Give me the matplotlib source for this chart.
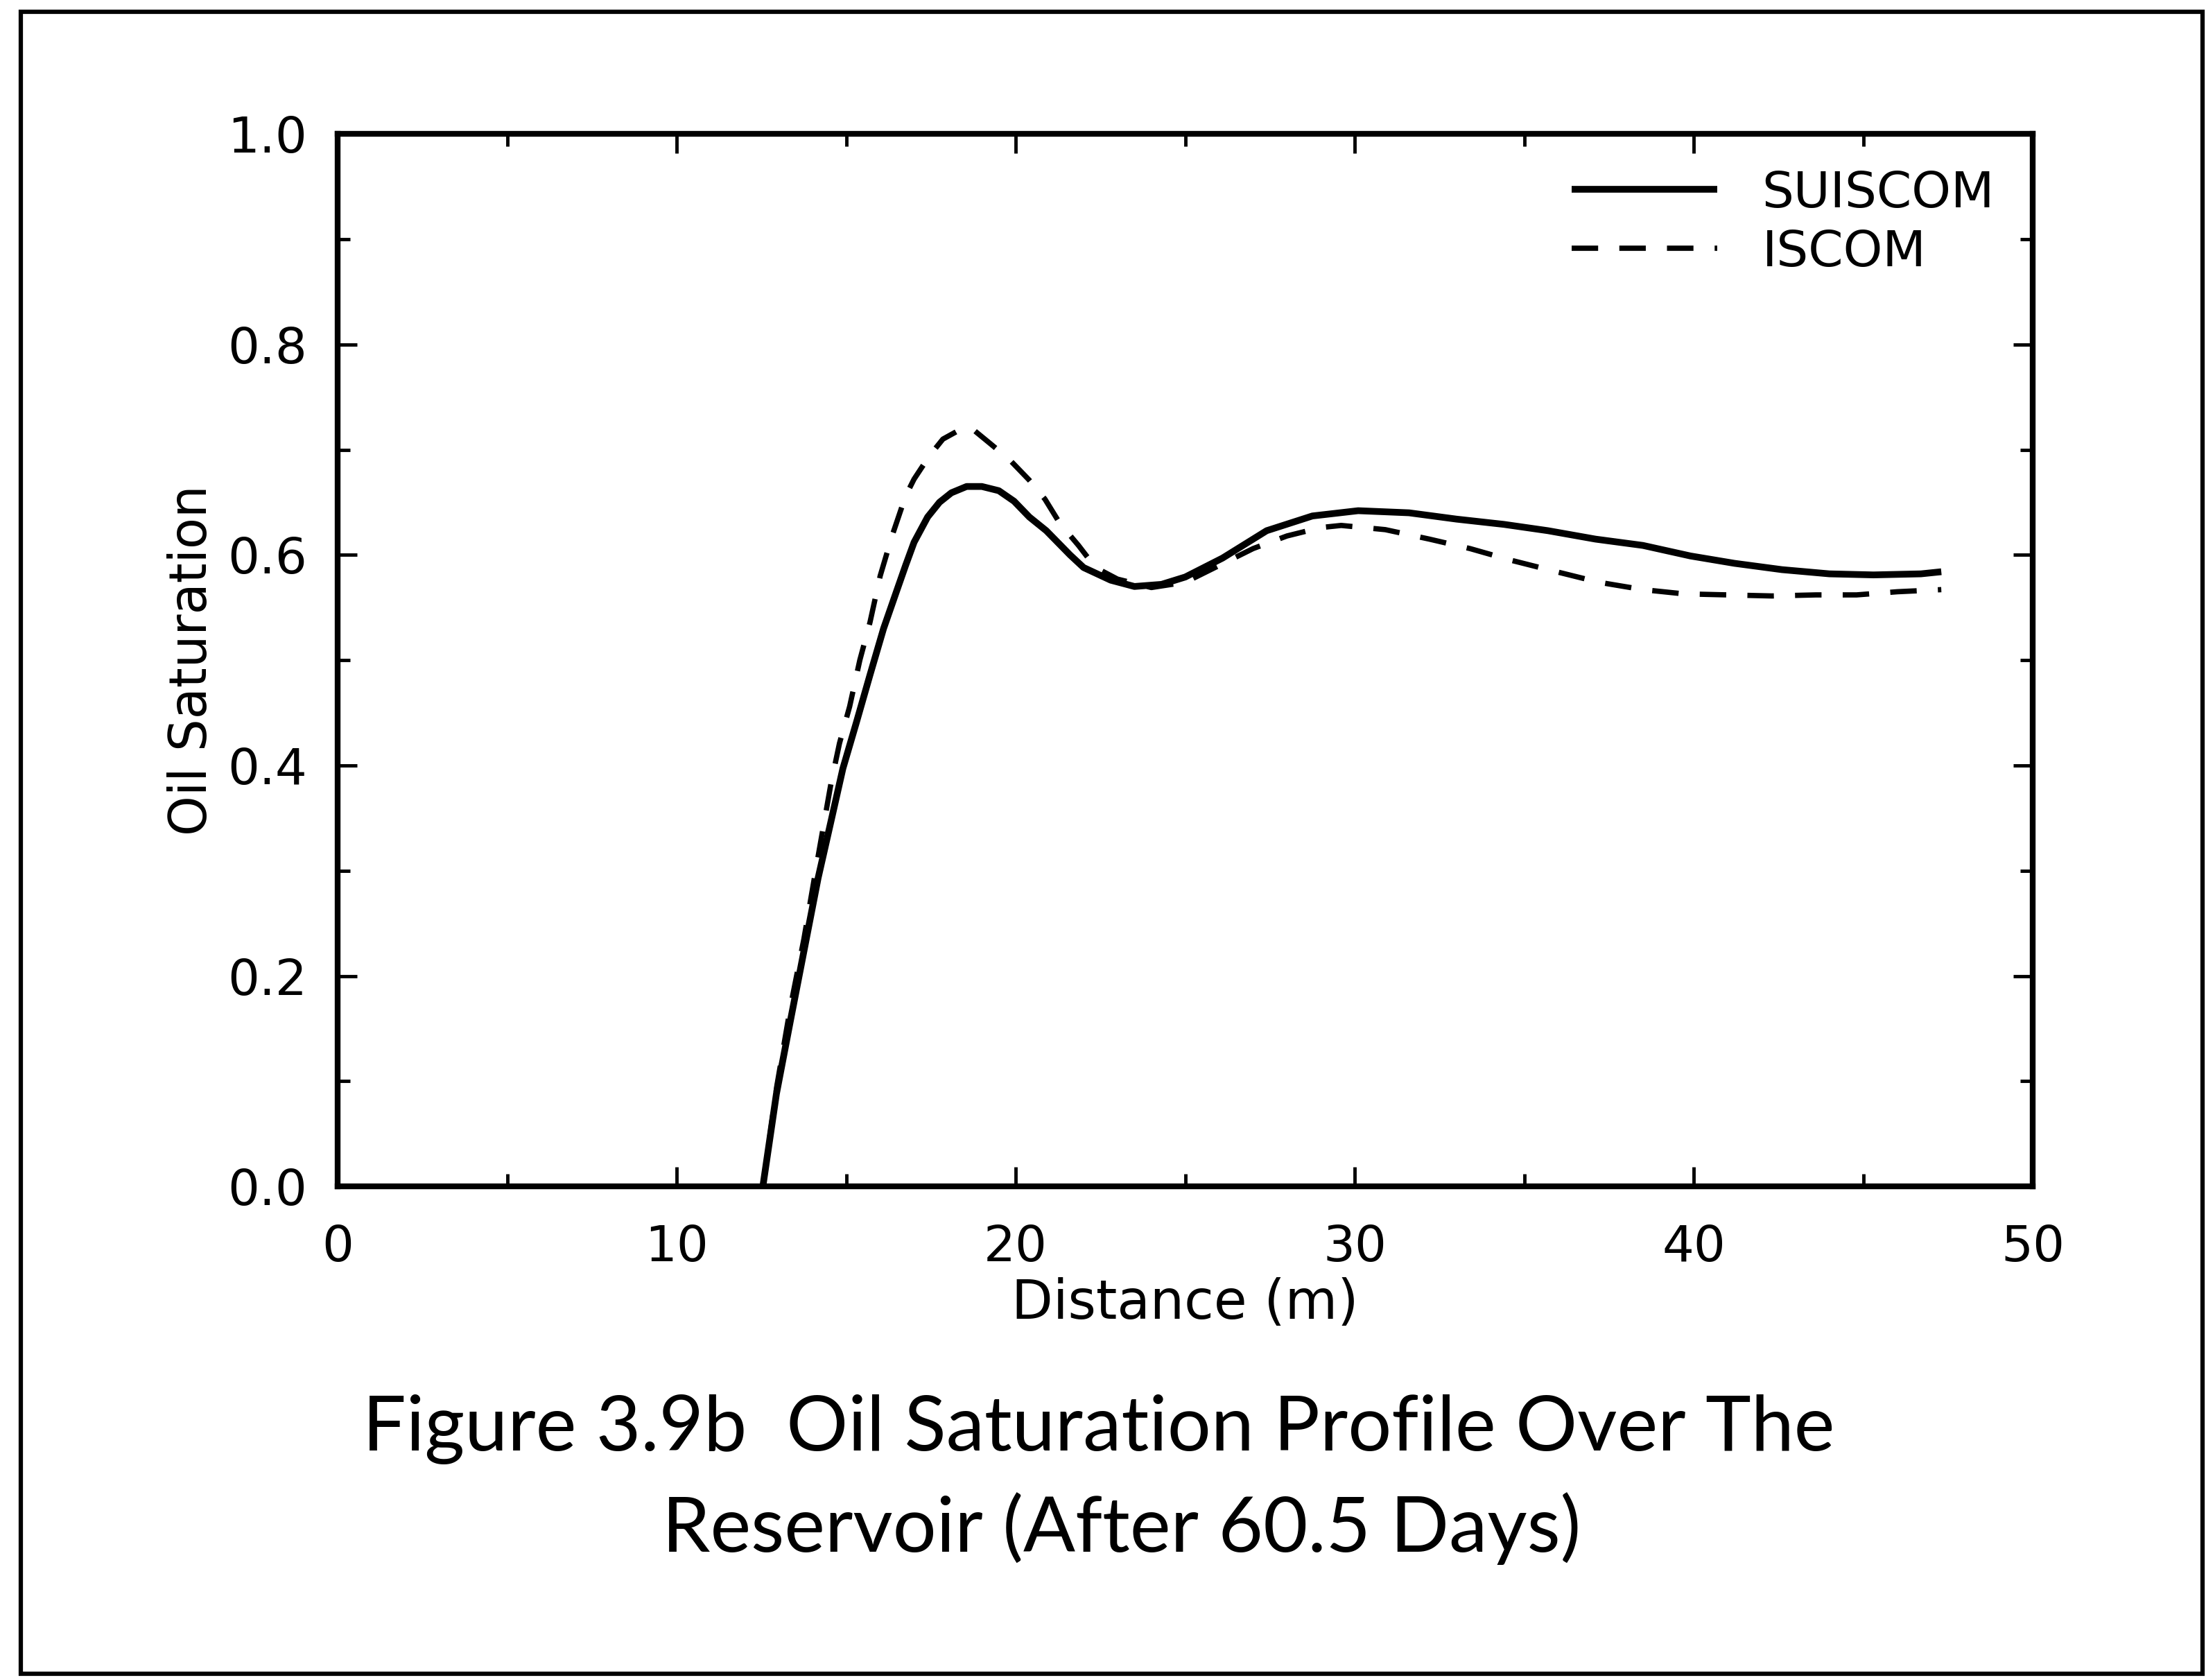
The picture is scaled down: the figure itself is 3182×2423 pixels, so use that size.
import matplotlib
matplotlib.use("Agg")
import matplotlib.pyplot as plt
from matplotlib.patches import Rectangle
from matplotlib.ticker import MultipleLocator

plt.rcParams['font.family'] = ['DejaVu Sans']

# Oil saturation profile along the reservoir after 60.5 days
suiscom_x = [12.54, 12.94, 13.35, 13.76, 14.17, 14.55, 14.9, 15.3, 15.7, 16.1,
             16.5, 16.75, 17.0, 17.4, 17.75, 18.1, 18.55, 19.0, 19.5, 19.95,
             20.4, 20.9, 21.6, 22.0, 22.8, 23.5, 24.3, 25.0, 26.1, 27.4,
             28.75, 30.1, 31.6, 33.0, 34.4, 35.7, 37.1, 38.5, 39.9, 41.2,
             42.6, 44.0, 45.3, 46.7, 47.3]
suiscom_s = [0.0, 0.088, 0.157, 0.225, 0.293, 0.347, 0.397, 0.441, 0.486, 0.53,
             0.567, 0.590, 0.612, 0.636, 0.650, 0.659, 0.665, 0.665, 0.661, 0.651,
             0.636, 0.623, 0.600, 0.588, 0.576, 0.570, 0.572, 0.579, 0.597, 0.623,
             0.637, 0.642, 0.640, 0.634, 0.629, 0.623, 0.615, 0.609, 0.599, 0.592,
             0.586, 0.582, 0.581, 0.582, 0.584]

iscom_x = [12.54, 12.95, 13.35, 13.75, 14.15, 14.55, 14.8, 15.1, 15.4, 15.7,
           16.0, 16.35, 16.75, 17.0, 17.45, 17.85, 18.3, 18.67, 19.2, 19.8,
           20.4, 20.86, 21.3, 21.85, 22.35, 23.0, 24.0, 25.0, 26.0, 27.0,
           28.0, 29.0, 29.6, 30.9, 32.2, 33.4, 34.6, 35.95, 37.2, 38.5,
           39.7, 41.0, 42.3, 43.6, 44.8, 46.0, 47.3]
iscom_s = [0.0, 0.095, 0.17, 0.235, 0.31, 0.383, 0.421, 0.456, 0.50, 0.536,
           0.58, 0.618, 0.656, 0.672, 0.694, 0.710, 0.718, 0.721, 0.707, 0.691,
           0.671, 0.653, 0.630, 0.609, 0.588, 0.577, 0.569, 0.574, 0.590, 0.606,
           0.618, 0.626, 0.628, 0.624, 0.615, 0.606, 0.595, 0.584, 0.574, 0.567,
           0.563, 0.562, 0.561, 0.562, 0.562, 0.565, 0.567]

x_ticks = [0, 10, 20, 30, 40, 50]
y_ticks = [0.0, 0.2, 0.4, 0.6, 0.8, 1.0]
x_ticklabels = ["0", "10", "20", "30", "40", "50"]
y_ticklabels = ["0.0", "0.2", "0.4", "0.6", "0.8", "1.0"]

fig = plt.figure(figsize=(31.82, 24.23), dpi=100)
fig.patch.set_facecolor("white")

# page frame around the whole figure
fig.patches.append(Rectangle((0.0094, 0.0037), 0.9890, 0.9893,
                             transform=fig.transFigure, fill=False,
                             edgecolor="black", linewidth=4.5))

ax = fig.add_axes([0.1531, 0.2938, 0.7684, 0.6265])
ax.plot(suiscom_x, suiscom_s, color="black", linewidth=7,
        solid_capstyle="butt", solid_joinstyle="round", label="SUISCOM")
ax.plot(iscom_x, iscom_s, color="black", linewidth=5.5,
        linestyle=(0, (5.0, 4.0)), label="ISCOM")

ax.set_xlim(0, 50)
ax.set_ylim(0, 1.0)
ax.set_xticks(x_ticks)
ax.set_xticklabels(x_ticklabels)
ax.set_yticks(y_ticks)
ax.set_yticklabels(y_ticklabels)
ax.xaxis.set_minor_locator(MultipleLocator(5))
ax.yaxis.set_minor_locator(MultipleLocator(0.1))

for sp in ax.spines.values():
    sp.set_linewidth(6)

ax.tick_params(which="both", direction="in", top=True, right=True,
               width=3.5, colors="black")
ax.tick_params(which="major", length=20)
ax.tick_params(which="minor", length=13)
ax.tick_params(axis="x", which="major", labelsize=52, pad=39)
ax.tick_params(axis="y", which="major", labelsize=52, pad=32)

ax.set_xlabel("Distance (m)", fontsize=56)
ax.xaxis.set_label_coords(0.5, -0.086)
ax.set_ylabel("Oil Saturation", fontsize=53)
ax.yaxis.set_label_coords(-0.071, 0.5)

leg = ax.legend(loc="upper left", bbox_to_anchor=(0.728, 0.966),
                frameon=False, fontsize=52, handlelength=2.9,
                handletextpad=0.9, labelspacing=0.22, borderpad=0,
                borderaxespad=0)

caption_font = dict(ha="center", va="center", fontsize=80,
                    family=["Lato", "DejaVu Sans"], weight="normal",
                    color="black")
fig.text(1585 / 3182, 1 - 2061 / 2423,
         "Figure 3.9b  Oil Saturation Profile Over The", **caption_font)
fig.text(1618 / 3182, 1 - 2205 / 2423,
         "Reservoir (After 60.5 Days)", **caption_font)

fig.savefig("out.png", dpi=100)
